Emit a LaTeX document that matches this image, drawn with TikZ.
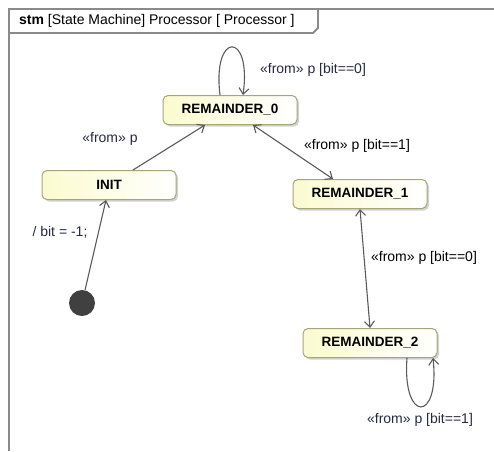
\documentclass[tikz,border=0pt]{standalone}
\usepackage{fontspec}
\setmainfont{Liberation Sans}
\setsansfont{Liberation Sans}
\usetikzlibrary{arrows.meta,shadows}
\definecolor{StateBorder}{HTML}{A5A577}
\definecolor{StateFill}{HTML}{FBFBCF}
\definecolor{LineGray}{HTML}{5A5A5A}
\definecolor{FrameGray}{HTML}{8A8A8A}
\definecolor{LabelNavy}{HTML}{252A3E}

\begin{document}
\begin{tikzpicture}[
    x=1pt, y=-1pt,
    font=\sffamily,
    estado/.style={draw=StateBorder, rounded corners=5pt, left color=StateFill, right color=white, line width=1pt, minimum width=134pt, minimum height=29pt, font=\sffamily\fontsize{13.5}{16}\selectfont\bfseries, drop shadow={shadow xshift=2pt, shadow yshift=-2pt, opacity=0.35}},
    transicao/.style={draw=LineGray, line width=1.1pt, -{Straight Barb[length=6pt, width=10pt]}},
    rotulo/.style={font=\sffamily\fontsize{14}{16}\selectfont, text=LabelNavy, inner sep=1pt}
]

  \useasboundingbox (0,0) rectangle (494,451);

  % Moldura do diagrama
  \draw[FrameGray, line width=1.8pt] (9,451) -- (9,9) -- (494,9);
  \draw[FrameGray, line width=1.8pt] (9,33) -- (313,33) -- (318,28) -- (318,9);
  \node[anchor=west, font=\sffamily\fontsize{14}{16}\selectfont, inner sep=0pt] (titulo) at (19,21) {\textbf{stm} [State Machine] Processor [ Processor ]};

  % =========================================================================
  % ESTADOS
  % =========================================================================
  \node[circle, fill=black!75, minimum size=26pt, inner sep=0pt] (inicial) at (82,303) {};
  \node[estado] (st_init) at (109,185) {INIT};
  \node[estado] (st_r0) at (230,110) {REMAINDER\_0};
  \node[estado] (st_r1) at (360,194) {REMAINDER\_1};
  \node[estado] (st_r2) at (370,343) {REMAINDER\_2};

  % =========================================================================
  % TRANSIÇÕES
  % =========================================================================
  \draw[transicao] (inicial) -- ([xshift=-3pt]st_init.south);
  \node[rotulo] (rot_inicial) at (60,232) {/ bit = -1;};

  \draw[transicao] ([xshift=24pt]st_init.north) -- ([xshift=-25pt]st_r0.south);
  \node[rotulo] (rot_init) at (110,139) {«from» p};

  % laço em REMAINDER_0
  \draw[transicao] ([xshift=-10pt]st_r0.north) .. controls (212,31) and (252,31) .. ([xshift=13pt]st_r0.north);
  \node[rotulo] (rot_r0) at (313,70) {«from» p [bit==0]};

  % REMAINDER_0 <-> REMAINDER_1
  \draw[transicao, {Straight Barb[length=6pt, width=10pt]}-{Straight Barb[length=6pt, width=10pt]}] ([xshift=23pt]st_r0.south) -- ([xshift=-27pt]st_r1.north);
  \node[rotulo, text=black] (rot_r0_r1) at (357,146) {«from» p [bit==1]};

  % REMAINDER_1 <-> REMAINDER_2
  \draw[transicao, {Straight Barb[length=6pt, width=10pt]}-{Straight Barb[length=6pt, width=10pt]}] (st_r1.south) -- (st_r2.north);
  \node[rotulo, text=black] (rot_r1_r2) at (424,258) {«from» p [bit==0]};

  % laço em REMAINDER_2
  \draw[transicao] ([xshift=37pt]st_r2.south) .. controls (402,423) and (440,423) .. ([xshift=63pt]st_r2.south);
  \node[rotulo] (rot_r2) at (420,420) {«from» p [bit==1]};

\end{tikzpicture}
\end{document}
